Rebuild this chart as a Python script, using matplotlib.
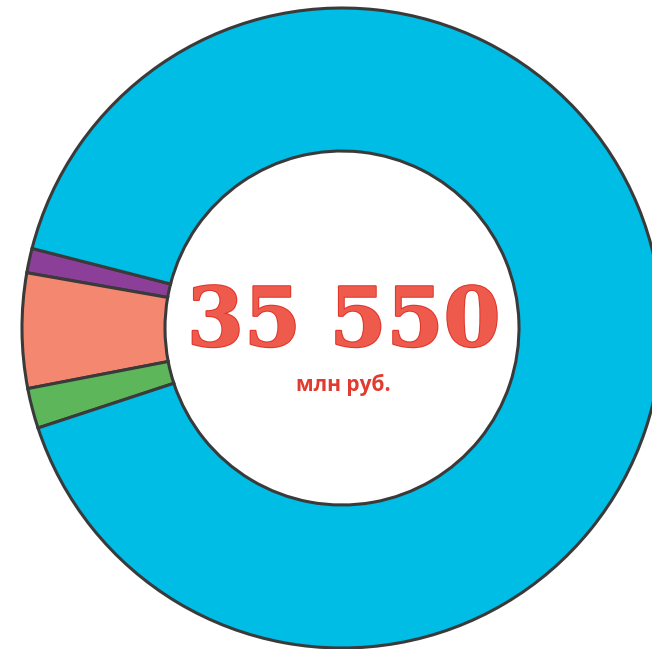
"""Donut chart: total 35 550 mln rub. split into four parts."""
import matplotlib
matplotlib.use("Agg")
import matplotlib.pyplot as plt
from matplotlib import patheffects

# shares in mln rub.
parts = ["purple", "salmon", "green", "blue"]
values = [440, 2060, 720, 32330]
colors = ["#8B3F98", "#F4876F", "#5DB75A", "#00BDE6"]
total_label = "35 550"
unit_label = "млн руб."

fig = plt.figure(figsize=(6.52, 6.49), dpi=100)
ax = fig.add_axes([0, 0, 1, 1])

ax.pie(values, colors=colors, startangle=165.6, counterclock=True,
       radius=320, center=(342, 321),
       wedgeprops=dict(width=143, edgecolor="#3a3a3a", linewidth=2.2))

ax.set_xlim(0, 652)
ax.set_ylim(0, 649)
ax.set_aspect("equal")
ax.axis("off")

ax.text(344, 326, total_label, ha="center", va="center",
        fontsize=59, fontweight="bold", family="DejaVu Serif",
        color="#EE5A4C",
        path_effects=[patheffects.withStroke(linewidth=1.5, foreground="#E0342A")])
ax.text(343, 264, unit_label, ha="center", va="center",
        fontsize=15, fontweight="bold", family="Open Sans", color="#E23A2E")

fig.savefig("out.png", dpi=100)
